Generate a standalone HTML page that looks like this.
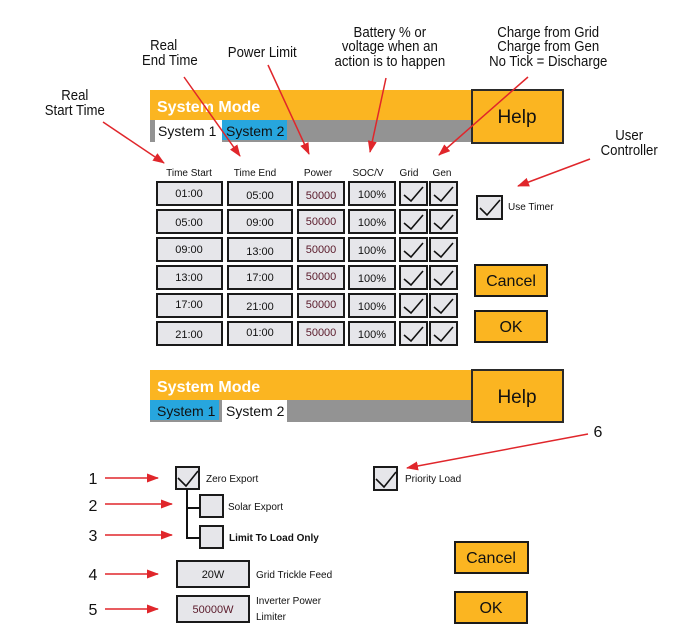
<!DOCTYPE html>
<html><head><meta charset="utf-8"><style>
html,body{margin:0;padding:0;background:#fff;}
svg{display:block;}
.a{font-family:"Liberation Sans",sans-serif;font-size:15px;fill:#111;text-anchor:middle;}
.s{font-family:"Liberation Sans",sans-serif;font-size:10px;fill:#111;}
.h{font-family:"Liberation Sans",sans-serif;font-size:10px;fill:#111;text-anchor:middle;}
.c{font-family:"Liberation Sans",sans-serif;font-size:11px;fill:#111;text-anchor:middle;}
.p{font-family:"Liberation Sans",sans-serif;font-size:11px;fill:#5a1a2a;text-anchor:middle;}
.t{font-family:"Liberation Sans",sans-serif;font-size:14px;fill:#111;}
.m{font-family:"Liberation Sans",sans-serif;font-size:16px;font-weight:bold;fill:#fff;}
.b{font-family:"Liberation Sans",sans-serif;font-size:19px;fill:#111;text-anchor:middle;}
.n{font-family:"Liberation Sans",sans-serif;font-size:16px;fill:#111;text-anchor:middle;}
</style></head><body>
<svg width="685" height="642" viewBox="0 0 685 642" xmlns="http://www.w3.org/2000/svg">
<defs>
<marker id="ar" markerWidth="12" markerHeight="9" refX="11" refY="4.5" orient="auto" markerUnits="userSpaceOnUse">
<path d="M0,0 L12,4.5 L0,9 z" fill="#e0262b"/></marker>
</defs>
<g transform="scale(0.88,1)">
<text class="a" x="85" y="100">Real</text><text class="a" x="85" y="115">Start Time</text>
<text class="a" x="186" y="50">Real</text><text class="a" x="193" y="65">End Time</text>
<text class="a" x="298" y="57">Power Limit</text>
<text class="a" x="443" y="37">Battery % or</text><text class="a" x="443" y="51">voltage when an</text><text class="a" x="443" y="66">action is to happen</text>
<text class="a" x="623" y="37">Charge from Grid</text><text class="a" x="623" y="51">Charge from Gen</text><text class="a" x="623" y="66">No Tick = Discharge</text>
<text class="a" x="715" y="140">User</text><text class="a" x="715" y="155">Controller</text>
</g>

<!-- top panel -->
<rect x="150" y="90" width="322" height="30" fill="#fbb521"/>
<text class="m" x="157" y="112">System Mode</text>
<rect x="150" y="120" width="322" height="22" fill="#939393"/>
<rect x="155" y="120" width="67" height="22" fill="#fff"/>
<rect x="222" y="120" width="65" height="20" fill="#27a6de"/>
<text class="t" x="158" y="136">System 1</text>
<text class="t" x="226" y="136">System 2</text>
<rect x="472" y="90" width="91" height="53" fill="#fbb521" stroke="#2a2a2a" stroke-width="2"/>
<text class="b" x="517" y="123">Help</text>

<text class="h" x="189" y="176">Time Start</text>
<text class="h" x="255" y="176">Time End</text>
<text class="h" x="318" y="176">Power</text>
<text class="h" x="368" y="176">SOC/V</text>
<text class="h" x="409" y="176">Grid</text>
<text class="h" x="442" y="176">Gen</text>

<g stroke="#1a1a1a" stroke-width="2" fill="#e6e6ea">
<rect x="157" y="182" width="65" height="23"/><rect x="228" y="182" width="64" height="23"/><rect x="298" y="182" width="46" height="23"/><rect x="349" y="182" width="46" height="23"/><rect x="400" y="182" width="27" height="23"/><rect x="430" y="182" width="27" height="23"/>
<rect x="157" y="210" width="65" height="23"/><rect x="228" y="210" width="64" height="23"/><rect x="298" y="210" width="46" height="23"/><rect x="349" y="210" width="46" height="23"/><rect x="400" y="210" width="27" height="23"/><rect x="430" y="210" width="27" height="23"/>
<rect x="157" y="238" width="65" height="23"/><rect x="228" y="238" width="64" height="23"/><rect x="298" y="238" width="46" height="23"/><rect x="349" y="238" width="46" height="23"/><rect x="400" y="238" width="27" height="23"/><rect x="430" y="238" width="27" height="23"/>
<rect x="157" y="266" width="65" height="23"/><rect x="228" y="266" width="64" height="23"/><rect x="298" y="266" width="46" height="23"/><rect x="349" y="266" width="46" height="23"/><rect x="400" y="266" width="27" height="23"/><rect x="430" y="266" width="27" height="23"/>
<rect x="157" y="294" width="65" height="23"/><rect x="228" y="294" width="64" height="23"/><rect x="298" y="294" width="46" height="23"/><rect x="349" y="294" width="46" height="23"/><rect x="400" y="294" width="27" height="23"/><rect x="430" y="294" width="27" height="23"/>
<rect x="157" y="322" width="65" height="23"/><rect x="228" y="322" width="64" height="23"/><rect x="298" y="322" width="46" height="23"/><rect x="349" y="322" width="46" height="23"/><rect x="400" y="322" width="27" height="23"/><rect x="430" y="322" width="27" height="23"/>
<rect x="477" y="196" width="25" height="23"/>
<rect x="176" y="467" width="23" height="22"/>
<rect x="200" y="495" width="23" height="22"/>
<rect x="200" y="526" width="23" height="22"/>
<rect x="177" y="561" width="72" height="26"/>
<rect x="177" y="596" width="72" height="26"/>
<rect x="374" y="467" width="23" height="23"/>
</g>
<g stroke="#111" stroke-width="1.6" fill="none">
<path d="M404,195 l7,6 l12,-14 M434,195 l7,6 l12,-14"/>
<path d="M404,223 l7,6 l12,-14 M434,223 l7,6 l12,-14"/>
<path d="M404,251 l7,6 l12,-14 M434,251 l7,6 l12,-14"/>
<path d="M404,279 l7,6 l12,-14 M434,279 l7,6 l12,-14"/>
<path d="M404,307 l7,6 l12,-14 M434,307 l7,6 l12,-14"/>
<path d="M404,335 l7,6 l12,-14 M434,335 l7,6 l12,-14"/>
<path d="M480,208 l7,7 l13,-15"/>
<path d="M178,478 l8,8 l12,-15"/>
<path d="M376,479 l8,8 l12,-15"/>
<path d="M187,489 V538 H200 M187,508 H200" stroke-width="2"/>
</g>
<g>
<text class="c" x="189" y="197">01:00</text><text class="c" x="260" y="199">05:00</text><text class="p" x="321" y="199">50000</text><text class="c" x="372" y="198">100%</text>
<text class="c" x="189" y="226">05:00</text><text class="c" x="260" y="226">09:00</text><text class="p" x="321" y="225">50000</text><text class="c" x="372" y="226">100%</text>
<text class="c" x="189" y="253">09:00</text><text class="c" x="260" y="255">13:00</text><text class="p" x="321" y="253">50000</text><text class="c" x="372" y="254">100%</text>
<text class="c" x="189" y="281">13:00</text><text class="c" x="260" y="281">17:00</text><text class="p" x="321" y="280">50000</text><text class="c" x="372" y="282">100%</text>
<text class="c" x="189" y="308">17:00</text><text class="c" x="260" y="310">21:00</text><text class="p" x="321" y="308">50000</text><text class="c" x="372" y="310">100%</text>
<text class="c" x="189" y="338">21:00</text><text class="c" x="260" y="336">01:00</text><text class="p" x="321" y="336">50000</text><text class="c" x="372" y="338">100%</text>
</g>
<text class="s" x="508" y="210">Use Timer</text>
<rect x="475" y="265" width="72" height="31" fill="#fbb521" stroke="#1a1a1a" stroke-width="2"/>
<text class="n" x="511" y="286">Cancel</text>
<rect x="475" y="311" width="72" height="31" fill="#fbb521" stroke="#1a1a1a" stroke-width="2"/>
<text class="n" x="511" y="332">OK</text>

<!-- bottom panel -->
<rect x="150" y="370" width="322" height="30" fill="#fbb521"/>
<text class="m" x="157" y="392">System Mode</text>
<rect x="150" y="400" width="322" height="22" fill="#939393"/>
<rect x="150" y="400" width="69" height="20" fill="#27a6de"/>
<rect x="222" y="400" width="65" height="22" fill="#fff"/>
<text class="t" x="157" y="416">System 1</text>
<text class="t" x="226" y="416">System 2</text>
<rect x="472" y="370" width="91" height="52" fill="#fbb521" stroke="#2a2a2a" stroke-width="2"/>
<text class="b" x="517" y="403">Help</text>

<text class="n" x="93" y="484">1</text>
<text class="n" x="93" y="511">2</text>
<text class="n" x="93" y="541">3</text>
<text class="n" x="93" y="580">4</text>
<text class="n" x="93" y="615">5</text>
<text class="n" x="598" y="437">6</text>
<text class="s" x="206" y="482">Zero Export</text>
<text class="s" x="228" y="510">Solar Export</text>
<text class="s" x="229" y="541" font-weight="bold">Limit To Load Only</text>
<text class="c" x="213" y="578">20W</text>
<text class="p" x="213" y="613">50000W</text>
<text class="s" x="256" y="578">Grid Trickle Feed</text>
<text class="s" x="256" y="604">Inverter Power</text>
<text class="s" x="256" y="620">Limiter</text>
<text class="s" x="405" y="482">Priority Load</text>
<rect x="455" y="542" width="73" height="31" fill="#fbb521" stroke="#1a1a1a" stroke-width="2"/>
<text class="n" x="491" y="563">Cancel</text>
<rect x="455" y="592" width="72" height="31" fill="#fbb521" stroke="#1a1a1a" stroke-width="2"/>
<text class="n" x="491" y="613">OK</text>

<g stroke="#e0262b" stroke-width="1.5" fill="none" marker-end="url(#ar)">
<line x1="103" y1="122" x2="164" y2="163"/>
<line x1="184" y1="77" x2="240" y2="156"/>
<line x1="268" y1="65" x2="309" y2="154"/>
<line x1="386" y1="78" x2="370" y2="152"/>
<line x1="528" y1="77" x2="439" y2="155"/>
<line x1="590" y1="159" x2="518" y2="186"/>
<line x1="588" y1="434" x2="407" y2="468"/>
<line x1="105" y1="478" x2="158" y2="478"/>
<line x1="105" y1="504" x2="172" y2="504"/>
<line x1="105" y1="535" x2="172" y2="535"/>
<line x1="105" y1="574" x2="158" y2="574"/>
<line x1="105" y1="609" x2="158" y2="609"/>
</g>
</svg>
</body></html>
